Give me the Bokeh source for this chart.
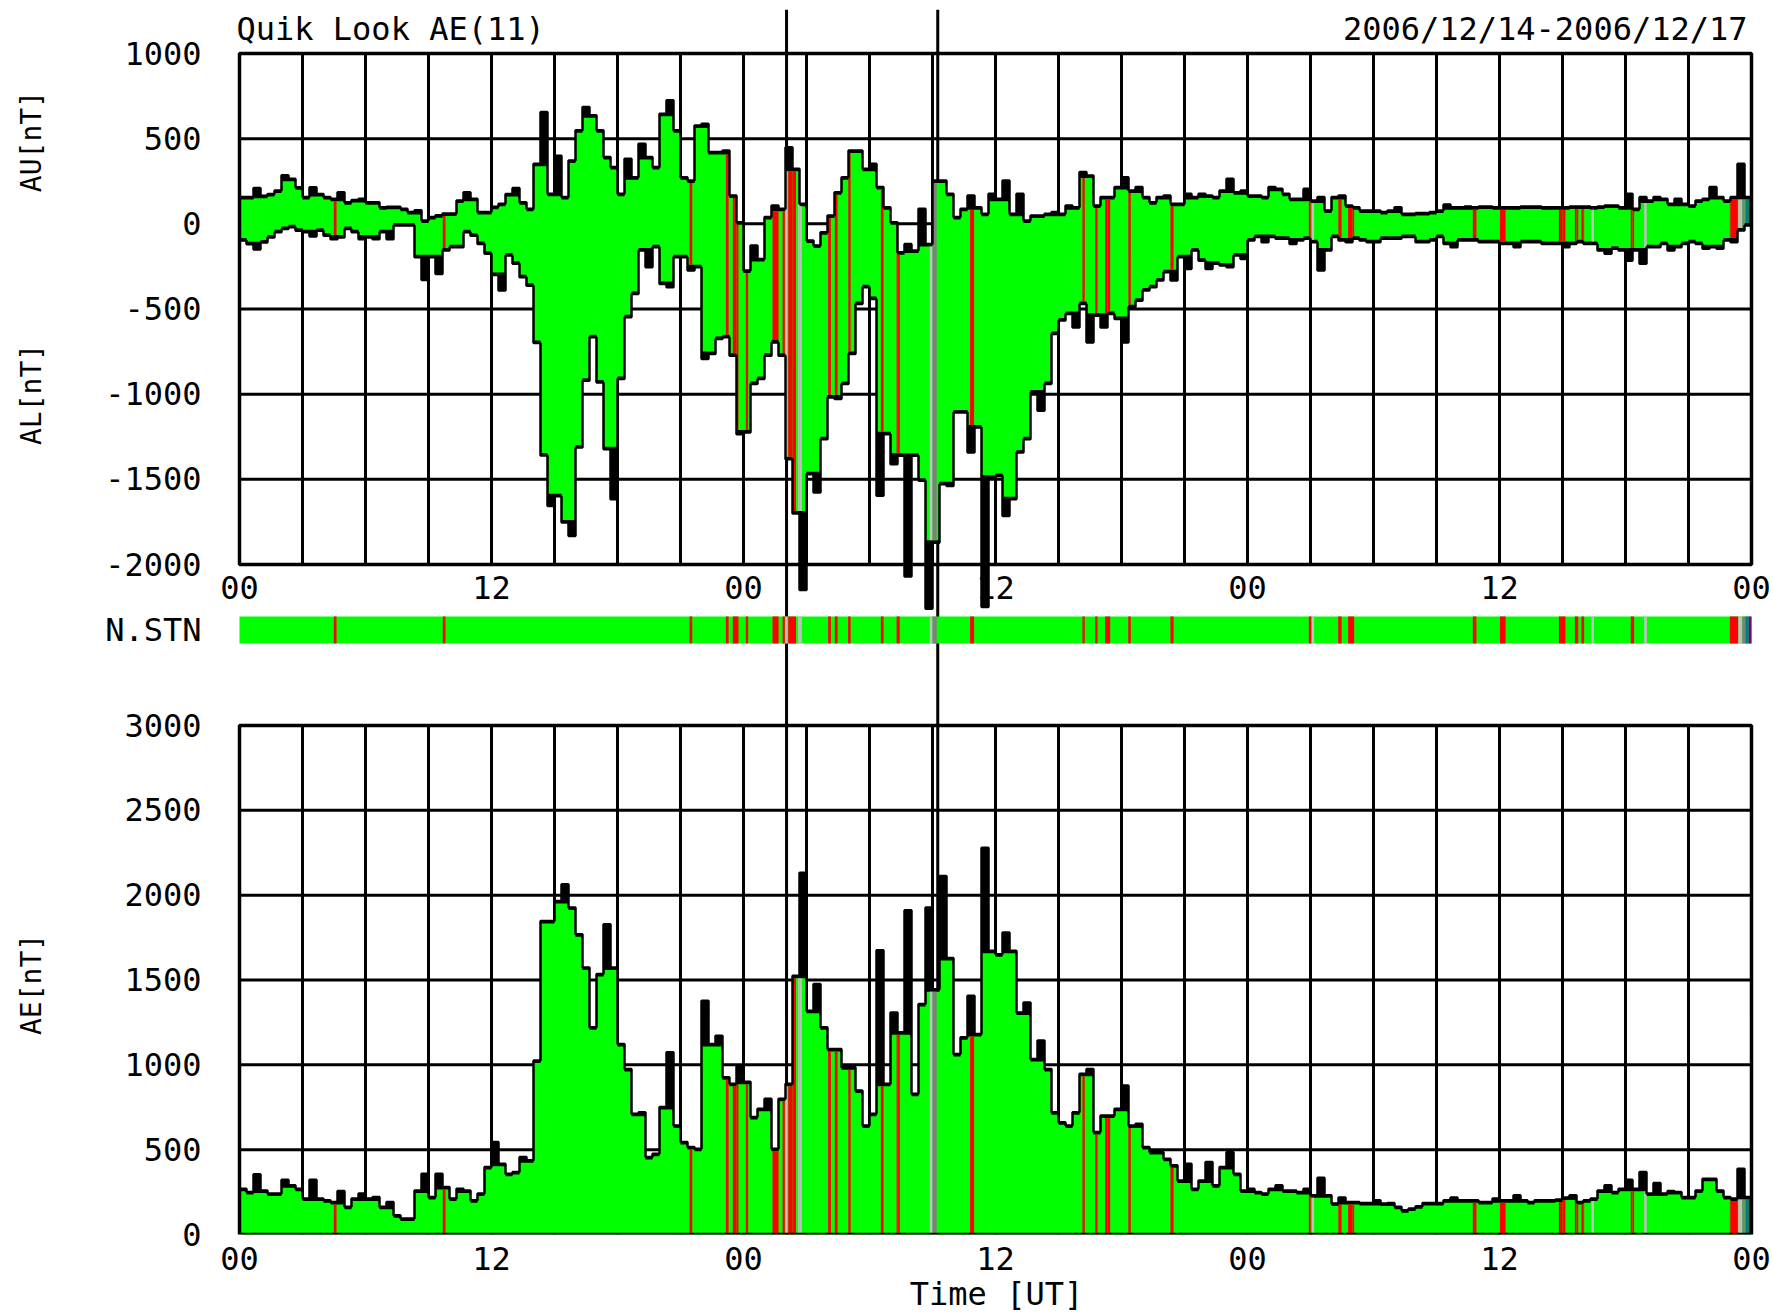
import numpy as np
from bokeh.plotting import figure
from bokeh.models import Range1d, FixedTicker, Span, Label, LabelSet, ColumnDataSource
from bokeh.embed import file_html
from bokeh.resources import INLINE
from bokeh.core.properties import value

# ---------------- data (20-minute bins, 3 days) ----------------
BIN_H = 1.0 / 3.0
au_day1 = [157,157,210,165,175,195,285,265,215,157, 215,175,157,147,185,127,140,147,127,127,
           98,100,100,88,70,80,20,40,50,60, 60,137,185,147,70,70,100,118,175,210,
           127,88,353,657,176,400,157,372,550,686, 637,550,392,333,176,382,274,470,392,333,
           647,725,549,274,255,578,588,421,421,431, 167,10]
al_day1 = [-98,-120,-150,-110,-80,-50,-30,-20,-40,-50, -75,-40,-70,-90,-80,-30,-50,-90,-80,-90,
           -50,-90,-10,-10,-10,-196,-330,-196,-294,-157, -137,-137,-50,-70,-118,-176,-300,-392,-186,-235,
           -314,-363,-700,-1360,-1656,-1600,-1754,-1832,-1313,-921, -666,-931,-1323,-1617,-911,-549,-412,-157,-255,-137,
           -353,-372,-196,-196,-274,-255,-794,-764,-676,-666, -774,-1235]
au_day2 = [-274,-127,-206,40,108,88,450,323,118,-98, -127,-49,49,186,274,431,431,323,353,216,
           98,10,-167,-118,-157,88,-118,255,255,176, 40,88,167,98,59,176,147,255,59,176,
           20,49,49,59,69,59,108,98,304,284, 108,157,157,216,274,196,216,157,127,157,
           167,118,118,176,157,176,167,157,196,265, 186,196]
al_day2 = [-1225,-941,-911,-774,-696,-774,-1382,-1700,-2150,-1470, -1578,-1264,-1019,-1029,-941,-764,-470,-372,-441,-1597,
           -1235,-1411,-1362,-2070,-1362,-1509,-2260,-1872,-1529,-1539, -1107,-1107,-1343,-1195,-2250,-1490,-1480,-1715,-1617,-1343,
           -1264,-990,-1098,-941,-647,-568,-529,-608,-470,-696, -539,-608,-529,-559,-696,-490,-451,-392,-372,-333,
           -284,-333,-196,-265,-157,-216,-265,-235,-245,-255, -186,-206]
au_day3 = [167,167,157,216,206,176,147,147,206,137, 157,78,157,167,108,98,78,78,78,69,
           78,98,59,59,63,63,69,78,114,98, 98,102,98,102,102,98,98,98,98,102,
           102,102,98,98,98,98,102,102,102,98, 102,108,108,98,176,88,157,137,157,147,
           118,147,118,108,137,147,216,157,137,157, 353,157]
al_day3 = [-98,-78,-108,-78,-88,-88,-118,-98,-88,-108, -274,-157,-78,-98,-108,-88,-98,-108,-108,-88,
           -88,-88,-78,-78,-108,-108,-98,-78,-118,-137, -98,-98,-98,-108,-108,-108,-118,-118,-137,-108,
           -108,-108,-118,-118,-118,-137,-118,-108,-118,-118, -157,-176,-147,-157,-216,-157,-235,-137,-137,-118,
           -157,-137,-118,-108,-118,-147,-137,-147,-98,-108, -39,-10]
ae_day1 = [270,250,355,260,241,241,323,290,270,212, 323,212,202,192,257,163,212,241,212,221,
           163,192,114,94,94,260,358,221,358,280, 212,270,260,202,241,398,545,417,358,368,
           457,437,1025,1848,1848,1966,2064,1927,1770,1574, 1221,1535,1829,1574,1123,976,711,721,457,476,
           751,1074,643,545,515,506,1378,1123,1172,927, 888,996]
ae_day2 = [900,692,741,800,506,800,888,1525,2132,1319, 1476,1221,1094,1094,986,986,849,643,711,1676,
           888,1309,1192,1911,829,1358,1927,1446,2113,1629, 1064,1162,1407,1182,2280,1672,1652,1780,1672,1309,
           1368,1035,1143,976,721,662,643,721,947,976, 604,702,702,741,878,643,653,515,486,486,
           447,408,319,417,270,319,427,290,398,486, 358,260]
ae_day3 = [270,250,241,270,290,260,260,250,270,231, 335,231,182,218,192,192,186,186,202,182,
           186,163,143,153,167,186,186,186,202,218, 202,202,202,192,192,212,202,202,231,202,
           192,202,202,202,206,218,231,192,202,212, 260,290,250,270,323,270,368,241,304,241,
           257,250,221,221,260,329,329,260,221,212, 388,221]

# station-count segments (hours from 2006/12/14 00UT): start, end, number of stations
stn_start = [4.49, 9.68, 21.43, 23.16, 23.49,
             24.11, 25.38, 25.86, 25.98, 26.13, 26.60, 28.03, 28.35, 28.98, 30.54, 31.29, 32.87, 33.00,
             34.79, 40.14, 40.75, 41.22, 42.32, 44.33,
             50.92, 51.05, 52.32, 52.79, 58.73, 60.02, 62.83, 63.59, 63.90, 64.38, 66.25, 66.89,
             70.97, 71.37, 71.56, 71.71, 71.87]
stn_end = [4.62, 9.81, 21.56, 23.29, 23.76,
           24.22, 25.67, 25.97, 26.10, 26.50, 26.78, 28.16, 28.48, 29.10, 30.67, 31.44, 33.00, 33.20,
           34.98, 40.25, 40.86, 41.46, 42.44, 44.48,
           51.05, 51.17, 52.48, 53.08, 58.90, 60.29, 63.14, 63.75, 64.03, 64.50, 66.41, 67.02,
           71.37, 71.56, 71.71, 71.87, 72.00]
stn_count = [10, 10, 10, 10, 10,
             10, 10, 10, 9, 10, 9, 10, 10, 10, 10, 10, 9, 8,
             10, 10, 10, 10, 10, 10,
             10, 9, 10, 10, 10, 10, 10, 10, 10, 9, 10, 9,
             10, 9, 8, 7, 6]
event_hours = [26.05, 33.25]

top_ticks = [-2000, -1500, -1000, -500, 0, 500, 1000]
ae_ticks = [0, 500, 1000, 1500, 2000, 2500, 3000]
hour_ticks = [0, 12, 24, 36, 48, 60, 72]
hour_labels = ["00", "12", "00", "12", "00", "12", "00"]
grid_hours = list(range(3, 72, 3))
side_titles = ["AE[nT]", "AL[nT]", "AU[nT]"]   # bottom to top

# ---------------- layout / style ----------------
FONT = "DejaVu Sans Mono"
FS = "32px"
FS_SIDE = "28px"
GREEN = "#00ff00"
STN_COLORS = {11: GREEN, 10: "#ff0000", 9: "#c0c0c0", 8: "#808080", 7: "#008080", 6: "#800080"}
PX_PER_H = 21.0
FRAME_LEFT, X0_PAGE, FRAME_RIGHT = 219, 239, 1773
FH = 1225                       # frame height (px), frame top at page y=9
TOP_LO_PX, TOP_HI_PX = 670, 1181
AE_LO_PX, AE_HI_PX = 0, 509
STN_LO_PX, STN_HI_PX = 591, 618
LW = 3

def px(page_y):
    return FH - (page_y - 9)

s_top = (top_ticks[-1] - top_ticks[0]) / (TOP_HI_PX - TOP_LO_PX)
s_ae = (ae_ticks[-1] - ae_ticks[0]) / (AE_HI_PX - AE_LO_PX)
top_range = Range1d(top_ticks[0] - TOP_LO_PX * s_top, top_ticks[0] + (FH - TOP_LO_PX) * s_top)
ae_range = Range1d(ae_ticks[0] - AE_LO_PX * s_ae, ae_ticks[0] + (FH - AE_LO_PX) * s_ae)
x_lo = -(X0_PAGE - FRAME_LEFT) / PX_PER_H
x_hi = x_lo + (FRAME_RIGHT - FRAME_LEFT) / PX_PER_H

p = figure(frame_width=FRAME_RIGHT - FRAME_LEFT, frame_height=FH, x_range=Range1d(x_lo, x_hi),
           y_range=Range1d(0, FH), output_backend="svg", toolbar_location=None, tools="", title=None,
           min_border_left=FRAME_LEFT, min_border_right=0, min_border_top=9, min_border_bottom=0)
p.outline_line_color = None
p.xgrid.visible = False
p.ygrid.visible = False
p.extra_y_ranges = {"top": top_range, "ae": ae_range}

# event lines (under everything)
for h in event_hours:
    p.add_layout(Span(location=h, dimension="height", line_color="black", line_width=LW, level="underlay"))

# grid
for rname, ticks in (("top", top_ticks), ("ae", ae_ticks)):
    p.segment(x0=grid_hours, x1=grid_hours, y0=ticks[0], y1=ticks[-1], y_range_name=rname,
              line_color="black", line_width=LW)
    p.segment(x0=0, x1=72, y0=ticks[1:-1], y1=ticks[1:-1], y_range_name=rname,
              line_color="black", line_width=LW)

au = np.array(au_day1 + au_day2 + au_day3, dtype=float)
al = np.array(al_day1 + al_day2 + al_day3, dtype=float)
ae = np.array(ae_day1 + ae_day2 + ae_day3, dtype=float)
n = len(au)
left = np.arange(n) * BIN_H
right = left + BIN_H

def nb(v):
    return np.r_[v[0], v[:-1]], np.r_[v[1:], v[-1]]

def inner_top(v):
    a, b = nb(v)
    return np.minimum(v, np.maximum(a, b))

def inner_bot(v):
    a, b = nb(v)
    return np.maximum(v, np.minimum(a, b))

edge_top = 2.5 * s_top
edge_ae = 2.5 * s_ae
g_top = inner_top(au) - edge_top
g_bot = inner_bot(al) + edge_top
mid = (g_top + g_bot) / 2
bad = g_top < g_bot
g_top[bad] = mid[bad]
g_bot[bad] = mid[bad]
g_ae = np.maximum(inner_top(ae) - edge_ae, 0)

xe = np.append(left, 72.0)
def ext(v):
    return np.append(v, v[-1])

# black envelopes, then green fills (single step areas, no seams)
p.varea_step(x=xe, y1=ext(al), y2=ext(au), step_mode="after", y_range_name="top", fill_color="black")
p.varea_step(x=xe, y1=0, y2=ext(ae), step_mode="after", y_range_name="ae", fill_color="black")
p.varea_step(x=xe, y1=ext(g_bot), y2=ext(g_top), step_mode="after", y_range_name="top", fill_color=GREEN)
p.varea_step(x=xe, y1=0, y2=ext(g_ae), step_mode="after", y_range_name="ae", fill_color=GREEN)

# station-count stripes inside fills
sl, sr, sb, st, stae, sc = [], [], [], [], [], []
for s0, s1, c in zip(stn_start, stn_end, stn_count):
    i0 = int(s0 // BIN_H)
    i1 = min(int((s1 - 1e-9) // BIN_H), n - 1)
    for i in range(i0, i1 + 1):
        sl.append(max(s0, left[i])); sr.append(min(s1, right[i]))
        sb.append(g_bot[i]); st.append(g_top[i]); stae.append(g_ae[i])
        sc.append(STN_COLORS[c])
p.quad(left=sl, right=sr, bottom=sb, top=st, y_range_name="top", fill_color=sc, line_color=None)
p.quad(left=sl, right=sr, bottom=0, top=stae, y_range_name="ae", fill_color=sc, line_color=None)

# black outlines
for v, rn in ((au, "top"), (al, "top"), (ae, "ae")):
    p.step(x=xe, y=ext(v), mode="after", y_range_name=rn, line_color="black", line_width=2.5)

# N.STN bar
p.quad(left=0, right=72, bottom=STN_LO_PX, top=STN_HI_PX, fill_color=GREEN, line_color=None)
p.quad(left=stn_start, right=stn_end, bottom=STN_LO_PX, top=STN_HI_PX,
       fill_color=[STN_COLORS[c] for c in stn_count], line_color=None)

# panel borders
p.quad(left=0, right=72, bottom=top_ticks[0], top=top_ticks[-1], y_range_name="top",
       fill_color=None, line_color="black", line_width=3.5)
p.quad(left=0, right=72, bottom=ae_ticks[0], top=ae_ticks[-1], y_range_name="ae",
       fill_color=None, line_color="black", line_width=3.5)

# left axis: tick labels of both panels and N.STN, plus the side titles
ypos = [round(TOP_LO_PX + (v - top_ticks[0]) / s_top, 3) for v in top_ticks] + \
       [round(AE_LO_PX + (v - ae_ticks[0]) / s_ae, 3) for v in ae_ticks] + \
       [(STN_LO_PX + STN_HI_PX) / 2]
ylab = [str(v) for v in top_ticks] + [str(v) for v in ae_ticks] + ["N.STN"]
NB = "\u00a0"
ya = p.yaxis[0]
ya.ticker = FixedTicker(ticks=ypos)
ya.major_label_overrides = dict(zip(ypos, ylab))
ya.axis_line_color = None
ya.major_tick_line_color = None
ya.minor_tick_line_color = None
ya.major_tick_out = 0
ya.major_tick_in = 0
ya.major_label_standoff = 18
ya.major_label_text_font = FONT
ya.major_label_text_font_size = FS
ya.major_label_text_color = "black"
ya.axis_label = NB * 7 + side_titles[0] + NB * 29 + side_titles[1] + NB * 9 + side_titles[2]
ya.axis_label_text_font = FONT
ya.axis_label_text_font_size = FS_SIDE
ya.axis_label_text_font_style = "normal"
ya.axis_label_text_color = "black"
ya.axis_label_standoff = 54

xa = p.xaxis[0]
xa.ticker = FixedTicker(ticks=hour_ticks)
xa.major_label_overrides = dict(zip(hour_ticks, hour_labels))
xa.axis_line_color = None
xa.major_tick_line_color = None
xa.minor_tick_line_color = None
xa.major_tick_out = 0
xa.major_tick_in = 0
xa.major_label_standoff = 12
xa.major_label_text_font = FONT
xa.major_label_text_font_size = FS
xa.major_label_text_color = "black"
xa.axis_label = "Time [UT]"
xa.axis_label_text_font = FONT
xa.axis_label_text_font_size = FS
xa.axis_label_text_font_style = "normal"
xa.axis_label_text_color = "black"
xa.axis_label_standoff = 2

# hour labels under the upper panel
src = ColumnDataSource(dict(x=hour_ticks, y=[px(587)] * len(hour_ticks), t=hour_labels))
p.add_layout(LabelSet(x="x", y="y", text="t", source=src, text_align="center", text_baseline="middle",
                      text_font=value(FONT), text_font_size=value(FS), text_color="black"))

# titles
p.add_layout(Label(x=0, y=px(28), x_offset=-3, text="Quik Look AE(11)", text_align="left",
                   text_baseline="middle", text_font=FONT, text_font_size=FS, text_color="black"))
p.add_layout(Label(x=72, y=px(28), x_offset=-4, text="2006/12/14-2006/12/17", text_align="right",
                   text_baseline="middle", text_font=FONT, text_font_size=FS, text_color="black"))

open("out.html", "w").write(file_html(p, INLINE))
